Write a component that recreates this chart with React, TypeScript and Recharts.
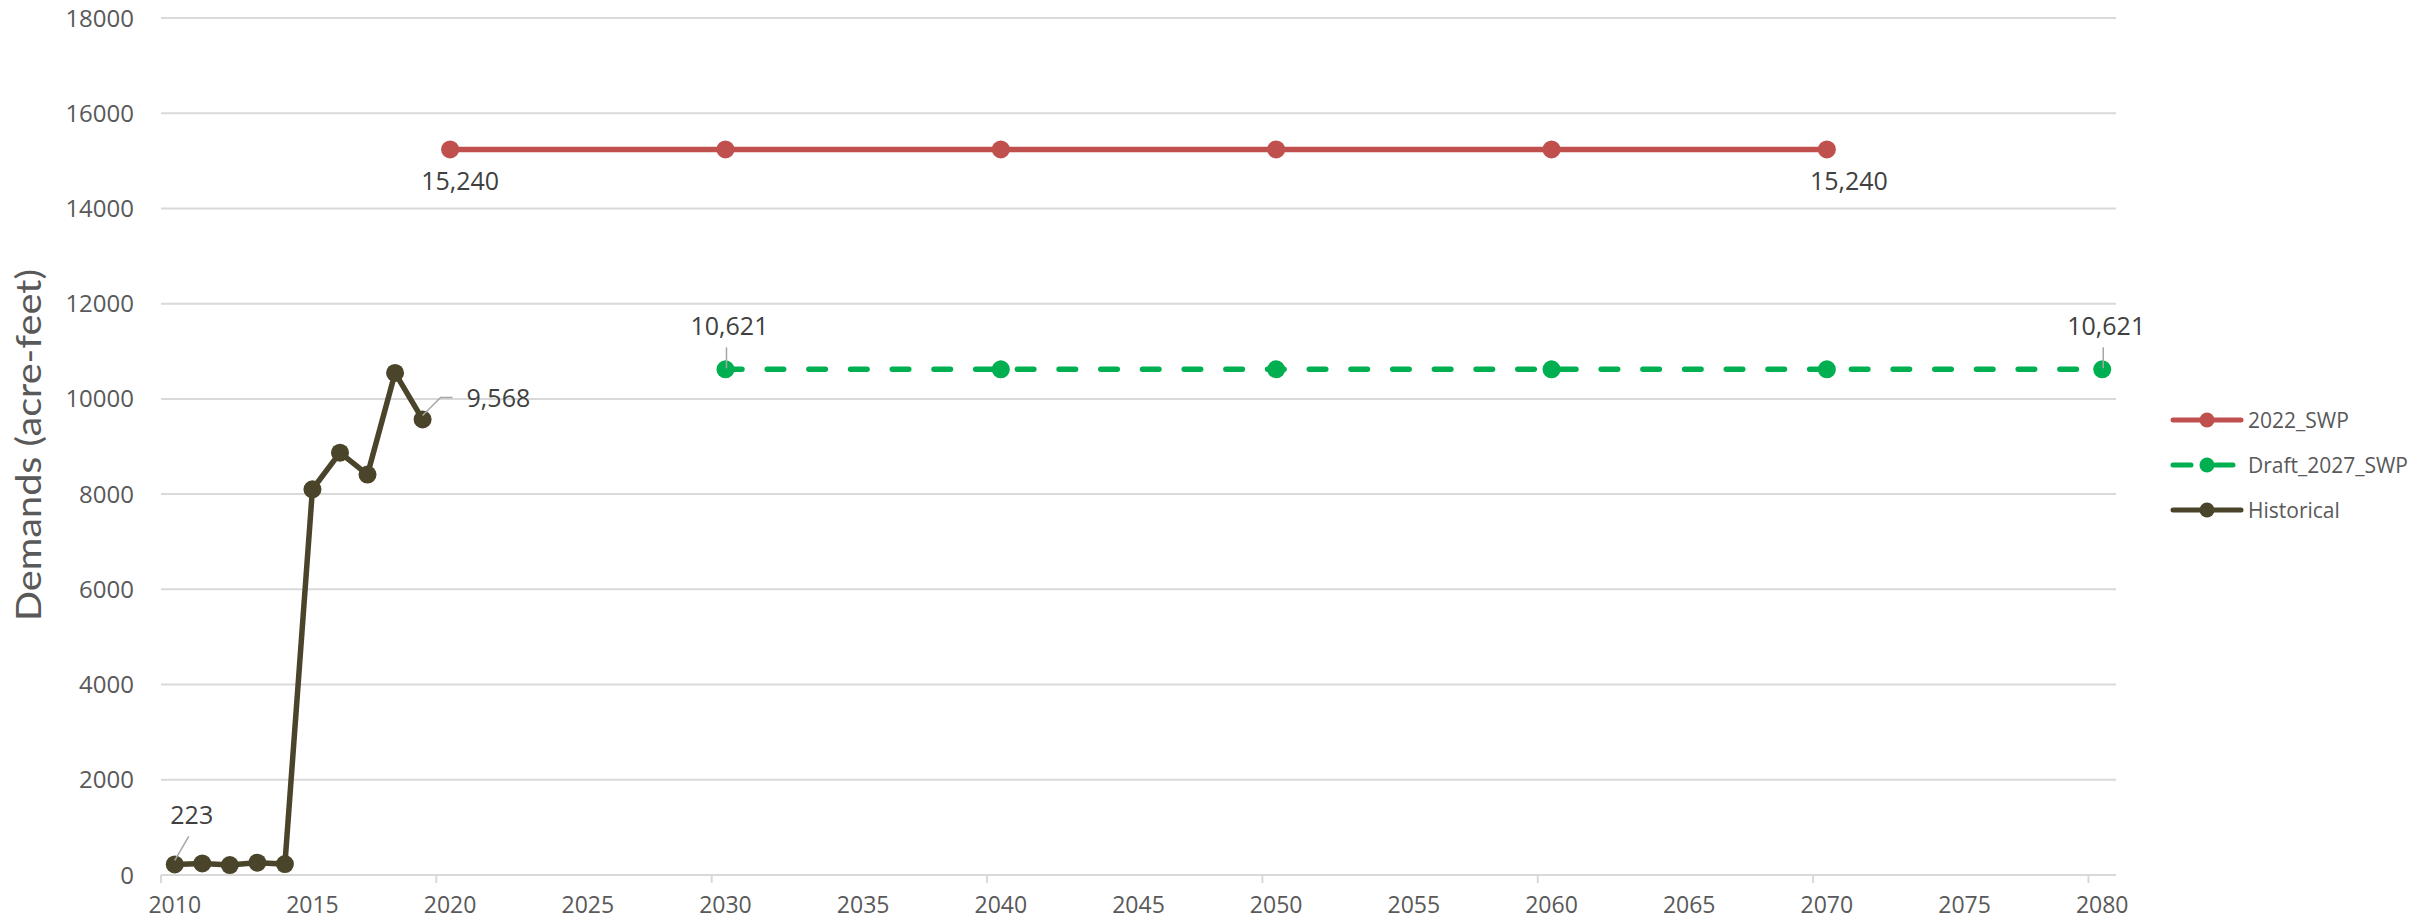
import React from 'react';
import { LineChart, Line, XAxis, YAxis, CartesianGrid } from 'recharts';

// values
const historicalYears = [2010, 2011, 2012, 2013, 2014, 2015, 2016, 2017, 2018, 2019];
const historicalValues = [223, 244, 209, 258, 230, 8100, 8870, 8410, 10545, 9568];

const swp2022Years = [2020, 2030, 2040, 2050, 2060, 2070];
const swp2022Values = [15240, 15240, 15240, 15240, 15240, 15240];

const draft2027Years = [2030, 2040, 2050, 2060, 2070, 2080];
const draft2027Values = [10621, 10621, 10621, 10621, 10621, 10621];

const xTicks = [2010, 2015, 2020, 2025, 2030, 2035, 2040, 2045, 2050, 2055, 2060, 2065, 2070, 2075, 2080];
const yTicks = [0, 2000, 4000, 6000, 8000, 10000, 12000, 14000, 16000, 18000];

const RED = '#C0504D';
const GREEN = '#00B050';
const OLIVE = '#4A442A';
const GRID = '#D9D9D9';
const TEXT = '#595959';
const LABEL = '#404040';
const LEADER = '#A6A6A6';
const FONT = '"Open Sans", "DejaVu Sans", sans-serif';

const CHART_W = 2436;
const CHART_H = 922;
const MARGIN = { top: 18, right: 320, bottom: 0, left: 0 };
const Y_AXIS_W = 161;
const X_DOMAIN: [number, number] = [2009.5, 2080.5];
const HALF_YEAR = (CHART_W - MARGIN.right - MARGIN.left - Y_AXIS_W) / (X_DOMAIN[1] - X_DOMAIN[0]) / 2;

const toRows = (years: number[], values: number[]) =>
  years.map((year, i) => ({ year, value: values[i] }));

const historical = toRows(historicalYears, historicalValues);
const swp2022 = toRows(swp2022Years, swp2022Values);
const draft2027 = toRows(draft2027Years, draft2027Values);

const fmt = (v: number) => Number(v).toLocaleString('en-US');

const pointOf = (p: any) => ({
  x: p.viewBox?.x ?? p.x,
  y: p.viewBox?.y ?? p.y,
});

const labelStyle = { fontFamily: FONT, fontSize: 25, fill: LABEL };

const HistoricalLabel = (props: any) => {
  const { index, value } = props;
  const { x, y } = pointOf(props);
  if (index === 0) {
    return (
      <g>
        <line x1={x} y1={y - 4} x2={x + 14} y2={y - 28} stroke={LEADER} strokeWidth={1.5} />
        <text x={x + 17} y={y - 40} textAnchor="middle" {...labelStyle}>{fmt(value)}</text>
      </g>
    );
  }
  if (index === historical.length - 1) {
    return (
      <g>
        <polyline
          points={`${x},${y - 4} ${x + 18},${y - 22} ${x + 30},${y - 22}`}
          fill="none"
          stroke={LEADER}
          strokeWidth={1.5}
        />
        <text x={x + 44} y={y - 12} {...labelStyle}>{fmt(value)}</text>
      </g>
    );
  }
  return null;
};

const SwpLabel = (props: any) => {
  const { index, value } = props;
  const { x, y } = pointOf(props);
  if (index !== 0 && index !== swp2022.length - 1) return null;
  const dx = index === 0 ? 10 : 22;
  return (
    <text x={x + dx} y={y + 41} textAnchor="middle" {...labelStyle}>{fmt(value)}</text>
  );
};

const DraftLabel = (props: any) => {
  const { index, value } = props;
  const { x, y } = pointOf(props);
  if (index !== 0 && index !== draft2027.length - 1) return null;
  return (
    <g>
      <line x1={x + 1} y1={y - 1} x2={x + 1} y2={y - 22} stroke={LEADER} strokeWidth={1.5} />
      <text x={x + 4} y={y - 34} textAnchor="middle" {...labelStyle}>{fmt(value)}</text>
    </g>
  );
};

const XTick = (props: any) => {
  const { x, y, payload } = props;
  const year = payload.value;
  return (
    <g>
      {year % 10 === 0 && (
        <line x1={x - HALF_YEAR} x2={x - HALF_YEAR} y1={y} y2={y + 8} stroke={GRID} strokeWidth={2} />
      )}
      <text x={x} y={y + 38} textAnchor="middle" fill={TEXT} fontSize={23} fontFamily={FONT}>
        {year}
      </text>
    </g>
  );
};

const AxisTitle = () => (
  <text
    x={41}
    y={445}
    transform="rotate(-90 41 445)"
    textAnchor="middle"
    fill={TEXT}
    fontSize={34}
    fontFamily='Lato, "Open Sans", sans-serif'
    textLength={352}
    lengthAdjust="spacingAndGlyphs"
  >
    Demands (acre-feet)
  </text>
);

const legendItems = [
  { name: '2022_SWP', color: RED, dashed: false },
  { name: 'Draft_2027_SWP', color: GREEN, dashed: true },
  { name: 'Historical', color: OLIVE, dashed: false },
];

const ChartLegend = () => (
  <div style={{ position: 'absolute', left: 2166, top: 398 }}>
    {legendItems.map((item) => (
      <div key={item.name} style={{ display: 'flex', alignItems: 'center', height: 44.7 }}>
        <svg width={82} height={20}>
          {item.dashed ? (
            <g stroke={item.color} strokeWidth={5} strokeLinecap="round">
              <line x1={7} y1={10} x2={25} y2={10} />
              <line x1={49} y1={10} x2={67} y2={10} />
            </g>
          ) : (
            <line x1={7} y1={10} x2={75} y2={10} stroke={item.color} strokeWidth={5} strokeLinecap="round" />
          )}
          <circle cx={41} cy={10} r={7.5} fill={item.color} />
        </svg>
        <span style={{ fontFamily: FONT, fontSize: 21, color: TEXT, whiteSpace: 'nowrap' }}>{item.name}</span>
      </div>
    ))}
  </div>
);

const App: React.FC = () => {
  return (
    <div style={{ position: 'absolute', left: 0, top: 0, width: CHART_W, height: CHART_H, background: '#fff' }}>
      <LineChart width={CHART_W} height={CHART_H} margin={MARGIN}>
        <CartesianGrid horizontal vertical={false} stroke={GRID} strokeWidth={2} />
        <XAxis
          dataKey="year"
          type="number"
          domain={X_DOMAIN}
          ticks={xTicks}
          interval={0}
          height={47}
          axisLine={{ stroke: GRID, strokeWidth: 2 }}
          tickLine={false}
          tickSize={0}
          tickMargin={0}
          tick={<XTick />}
          allowDuplicatedCategory={false}
        />
        <YAxis
          type="number"
          domain={[0, 18000]}
          ticks={yTicks}
          interval={0}
          width={Y_AXIS_W}
          axisLine={false}
          tickLine={false}
          tickSize={0}
          tickMargin={27}
          tick={{ fill: TEXT, fontSize: 24, fontFamily: FONT }}
          label={<AxisTitle />}
        />
        <Line
          name="2022_SWP"
          data={swp2022}
          dataKey="value"
          type="linear"
          stroke={RED}
          strokeWidth={5.5}
          dot={{ r: 9, fill: RED, stroke: RED, strokeWidth: 0 }}
          activeDot={false}
          label={<SwpLabel />}
          isAnimationActive={false}
        />
        <Line
          name="Draft_2027_SWP"
          data={draft2027}
          dataKey="value"
          type="linear"
          stroke={GREEN}
          strokeWidth={5.5}
          strokeDasharray="16.5 25.2"
          strokeLinecap="round"
          dot={{ r: 9, fill: GREEN, stroke: GREEN, strokeWidth: 0, strokeDasharray: '0' }}
          activeDot={false}
          label={<DraftLabel />}
          isAnimationActive={false}
        />
        <Line
          name="Historical"
          data={historical}
          dataKey="value"
          type="linear"
          stroke={OLIVE}
          strokeWidth={5.5}
          dot={{ r: 9, fill: OLIVE, stroke: OLIVE, strokeWidth: 0 }}
          activeDot={false}
          label={<HistoricalLabel />}
          isAnimationActive={false}
        />
      </LineChart>
      <ChartLegend />
    </div>
  );
};

export default App;
